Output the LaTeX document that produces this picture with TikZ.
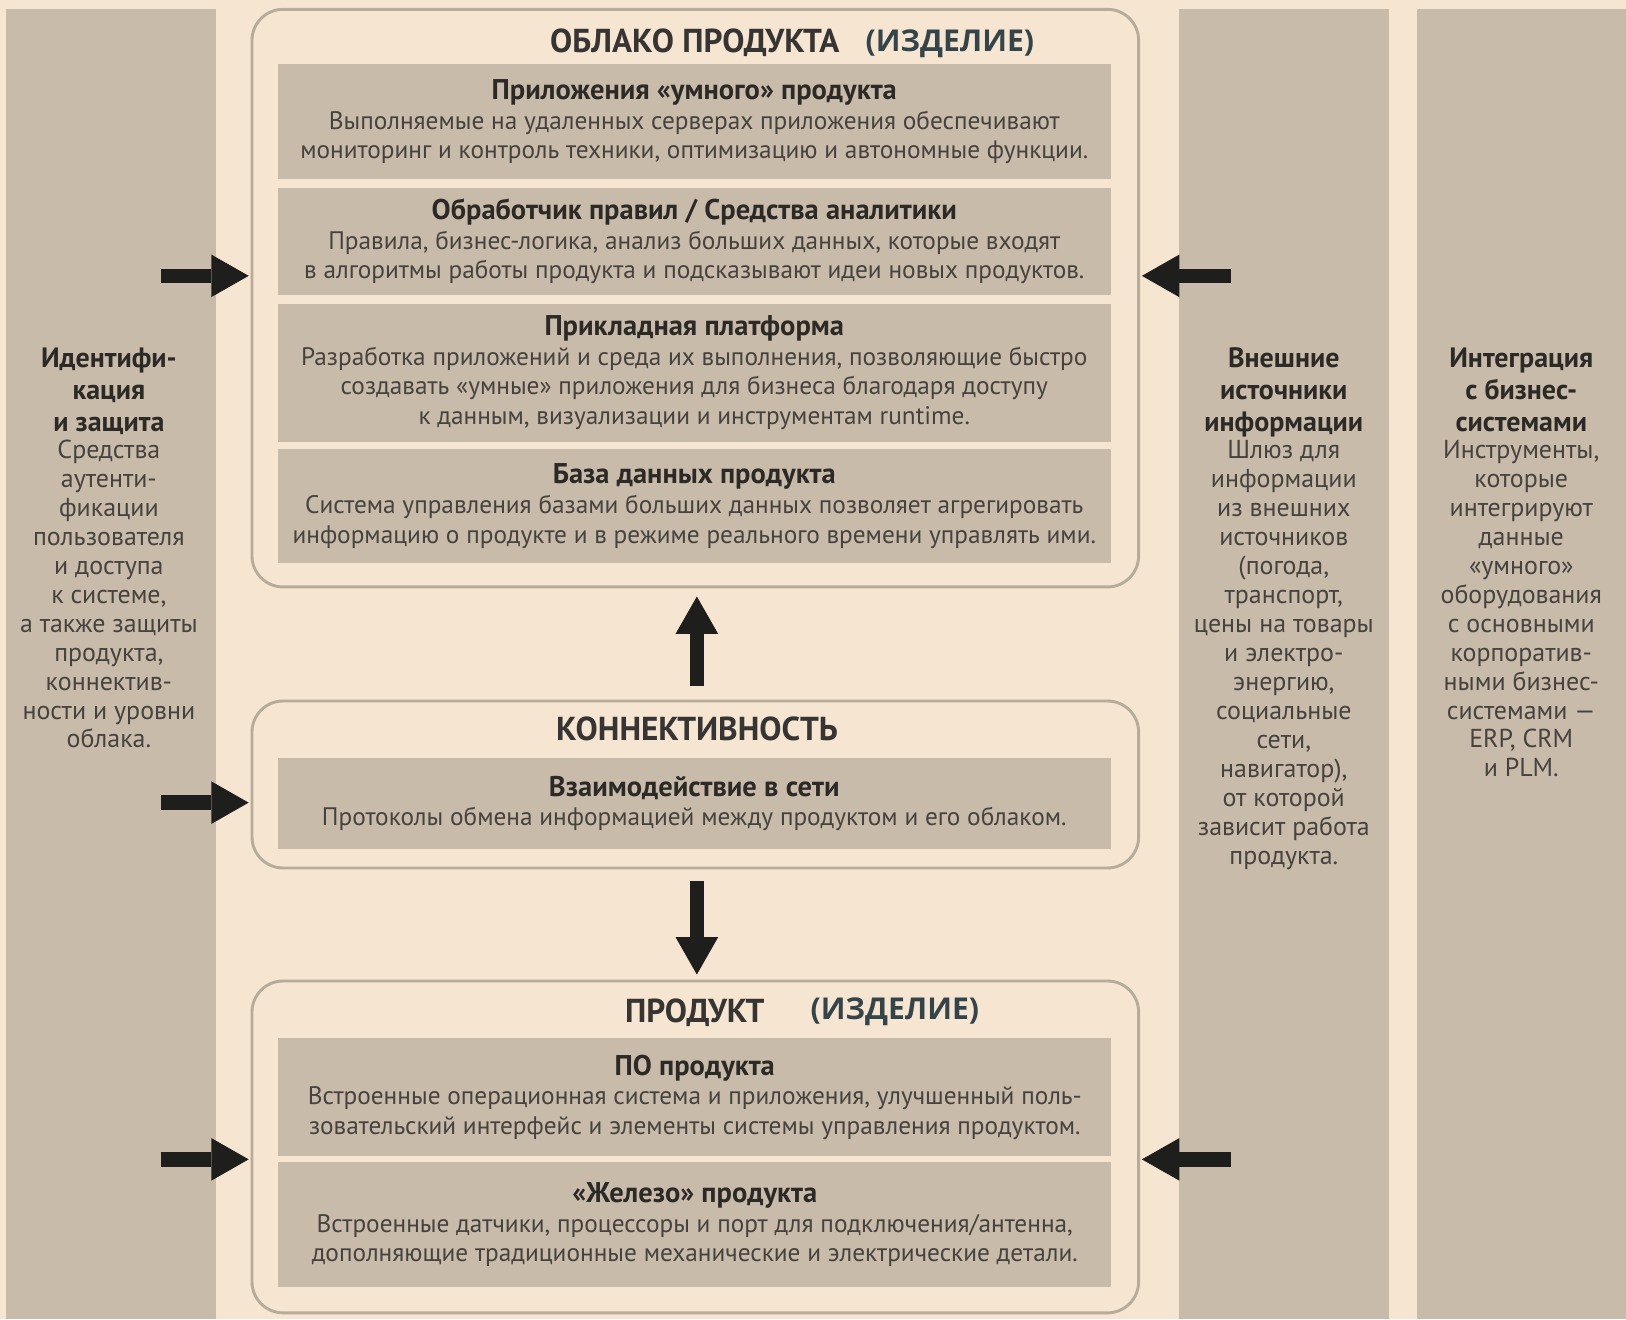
\documentclass[tikz,border=0pt]{standalone}
\usepackage{fontspec}
\setmainfont{PT Sans}
\newfontfamily\izdfont{Open Sans}
\usetikzlibrary{arrows.meta}

\definecolor{paper}{HTML}{F5E5D1}
\definecolor{panel}{HTML}{C9BBA9}
\definecolor{rim}{HTML}{B7AB9A}
\definecolor{headc}{HTML}{2C2A27}
\definecolor{bodyc}{HTML}{45423F}
\definecolor{titlec}{HTML}{363533}
\definecolor{izdc}{HTML}{33454A}
\definecolor{arrowc}{HTML}{1E1E1C}

% bold heading line inside a text block
\newcommand{\hd}[1]{{\fontsize{27.5}{28.5}\selectfont\bfseries\color{headc}#1}}
\newcommand{\chd}[1]{{\fontsize{27}{28}\selectfont\bfseries\color{headc}#1}}

\tikzset{
  sidecol/.style={fill=panel, draw=none, anchor=north west, inner sep=0pt},
  layerbox/.style={draw=rim, line width=2.8pt, rounded corners=30pt, fill=none},
  inbox/.style={fill=panel, draw=none, minimum width=803pt, inner sep=0pt,
    align=center, text=bodyc, font=\fontsize{24.4}{28.5}\selectfont},
  coltext/.style={align=center, text=bodyc, anchor=north, inner sep=0pt,
    font=\fontsize{25}{27.9}\selectfont},
  ttl/.style={text=titlec, font=\fontsize{32}{34}\selectfont\bfseries, inner sep=0pt},
  izd/.style={text=izdc, font=\fontsize{29}{32}\selectfont\izdfont\bfseries, inner sep=0pt},
  blockarr/.style={draw=arrowc, line width=14pt, line cap=butt,
    -{Triangle[length=36pt,width=41pt,line width=0pt]}},
}

\begin{document}
\begin{tikzpicture}[x=1pt,y=-1pt]
  \fill[paper] (0,0) rectangle (1568,1272);
  \useasboundingbox (0,0) rectangle (1568,1272);

  % side columns
  \node[sidecol, minimum width=202pt, minimum height=1264pt] (idcol) at (6,8) {};
  \node[sidecol, minimum width=202pt, minimum height=1264pt] (extcol) at (1137,8) {};
  \node[sidecol, minimum width=202pt, minimum height=1264pt] (intcol) at (1366,8) {};

  \node[coltext] (idtext) at (105,335) {\chd{Идентифи-}\\[3pt]\chd{кация}\\[3pt]\chd{и защита}\\[-1.5pt]
    Средства\\аутенти-\\фикации\\пользователя\\и доступа\\к системе,\\а также защиты\\продукта,\\коннектив-\\ности и уровни\\облака.};
  \node[coltext] (exttext) at (1238,335) {\chd{Внешние}\\[3pt]\chd{источники}\\[3pt]\chd{информации}\\[-1.5pt]
    Шлюз для\\информации\\из внешних\\источников\\(погода,\\транспорт,\\цены на товары\\и электро-\\энергию,\\социальные\\сети,\\навигатор),\\от которой\\зависит работа\\продукта.};
  \node[coltext] (inttext) at (1467,335) {\chd{Интеграция}\\[3pt]\chd{с бизнес-}\\[3pt]\chd{системами}\\[-1.5pt]
    Инструменты,\\которые\\интегрируют\\данные\\«умного»\\оборудования\\с основными\\корпоратив-\\ными бизнес-\\системами —\\ERP, CRM\\и PLM.};

  % product cloud
  \draw[layerbox] (243,9) rectangle (1098,566);
  \node[inner sep=0pt, minimum width=855pt, minimum height=557pt] (cloud) at (670.5,287.5) {};
  \node[ttl] (cloudttl) at (670,41) {ОБЛАКО ПРОДУКТА};
  \node[izd] (cloudizd) at (916,42) {(ИЗДЕЛИЕ)};
  \node[inbox, minimum height=111pt] (apps) at (669.5,117.5) {\hd{Приложения «умного» продукта}\\
    Выполняемые на удаленных серверах приложения обеспечивают\\
    мониторинг и контроль техники, оптимизацию и автономные функции.};
  \node[inbox, minimum height=103pt] (rules) at (669.5,233) {\hd{Обработчик правил / Средства аналитики}\\
    Правила, бизнес-логика, анализ больших данных, которые входят\\
    в алгоритмы работы продукта и подсказывают идеи новых продуктов.};
  \node[inbox, minimum height=133pt] (platform) at (669.5,359.5) {\hd{Прикладная платформа}\\
    Разработка приложений и среда их выполнения, позволяющие быстро\\
    создавать «умные» приложения для бизнеса благодаря доступу\\
    к данным, визуализации и инструментам runtime.};
  \node[inbox, minimum height=110pt] (database) at (669.5,488) {\hd{База данных продукта}\\
    Система управления базами больших данных позволяет агрегировать\\
    информацию о продукте и в режиме реального времени управлять ими.};

  % connectivity
  \draw[layerbox] (243,676) rectangle (1098,837);
  \node[inner sep=0pt, minimum width=855pt, minimum height=161pt] (conn) at (670.5,756.5) {};
  \node[ttl] (connttl) at (672,703) {КОННЕКТИВНОСТЬ};
  \node[inbox, minimum height=88pt] (network) at (669.5,775) {\hd{Взаимодействие в сети}\\
    Протоколы обмена информацией между продуктом и его облаком.};

  % product
  \draw[layerbox] (243,946) rectangle (1098,1266);
  \node[inner sep=0pt, minimum width=855pt, minimum height=320pt] (prod) at (670.5,1106) {};
  \node[ttl] (prodttl) at (670,977) {ПРОДУКТ};
  \node[izd] (prodizd) at (863,976) {(ИЗДЕЛИЕ)};
  \node[inbox, minimum height=114pt] (software) at (670,1058) {\hd{ПО продукта}\\
    Встроенные операционная система и приложения, улучшенный поль-\\
    зовательский интерфейс и элементы системы управления продуктом.};
  \node[inbox, minimum height=120pt] (hardware) at (670,1181) {\hd{«Железо» продукта}\\
    Встроенные датчики, процессоры и порт для подключения/антенна,\\
    дополняющие традиционные механические и электрические детали.};

  % connectors
  \coordinate (la1) at (155,266);
  \coordinate (la2) at (155,774);
  \coordinate (la3) at (155,1118);
  \coordinate (ra1) at (1187,266);
  \coordinate (ra3) at (1187,1118);
  \draw[blockarr, shorten >=3pt] (la1) -- (cloud.west |- la1);
  \draw[blockarr, shorten >=3pt] (la2) -- (conn.west |- la2);
  \draw[blockarr, shorten >=3pt] (la3) -- (prod.west |- la3);
  \draw[blockarr, shorten >=3pt] (ra1) -- (cloud.east |- ra1);
  \draw[blockarr, shorten >=3pt] (ra3) -- (prod.east |- ra3);
  \coordinate (upbase) at (672,676);
  \coordinate (dnbase) at (672,837);
  \draw[blockarr, shorten <=14pt, shorten >=9pt] (upbase) -- (upbase |- cloud.south);
  \draw[blockarr, shorten <=13pt, shorten >=6pt] (dnbase) -- (dnbase |- prod.north);
\end{tikzpicture}
\end{document}
